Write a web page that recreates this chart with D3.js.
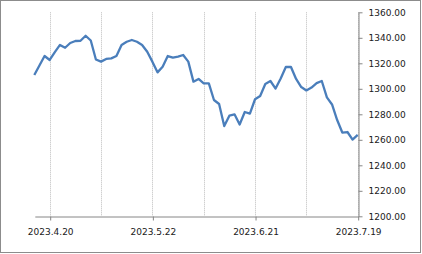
<!DOCTYPE html>
<html>
  <head>
    <meta charset="utf-8">
    <title></title>
  </head>
  <style>
  body{
    margin: 0;
    font-family: "DejaVu Sans";
  }
  .axis .domain, .axis .tick line{
    stroke: #868686;
  }
  .axis .tick text{
    fill: #1a1a1a;
    font-size: 9px;
    font-family: "DejaVu Sans";
  }
  .grid line{
    stroke: #bcbcbc;
    stroke-dasharray: 1,1;
  }
  </style>
  <script src="https://d3js.org/d3.v7.min.js"></script>
  <body>
    <script>
    // trading days
    const dates = [
      "2023.4.17","2023.4.18","2023.4.19","2023.4.20","2023.4.21",
      "2023.4.24","2023.4.25","2023.4.26","2023.4.27","2023.4.28",
      "2023.5.2","2023.5.3","2023.5.4","2023.5.8","2023.5.9",
      "2023.5.10","2023.5.11","2023.5.12","2023.5.15","2023.5.16",
      "2023.5.17","2023.5.18","2023.5.19","2023.5.22","2023.5.23",
      "2023.5.24","2023.5.25","2023.5.26","2023.5.30","2023.5.31",
      "2023.6.1","2023.6.2","2023.6.5","2023.6.7","2023.6.8",
      "2023.6.9","2023.6.12","2023.6.13","2023.6.14","2023.6.15",
      "2023.6.16","2023.6.19","2023.6.20","2023.6.21","2023.6.22",
      "2023.6.23","2023.6.26","2023.6.27","2023.6.28","2023.6.29",
      "2023.6.30","2023.7.3","2023.7.4","2023.7.5","2023.7.6",
      "2023.7.7","2023.7.10","2023.7.11","2023.7.12","2023.7.13",
      "2023.7.14","2023.7.17","2023.7.18","2023.7.19"
    ]

    const values = [
      1310.8, 1318.3, 1325.7, 1322.6, 1328.8, 1334.4, 1332.2, 1335.9, 1337.5, 1337.7,
      1341.6, 1337.9, 1323.0, 1321.3, 1323.4, 1323.9, 1325.7, 1334.4, 1336.9, 1338.3,
      1336.9, 1334.4, 1329.1, 1321.3, 1312.9, 1317.3, 1325.7, 1324.4, 1325.2, 1326.5,
      1321.3, 1305.6, 1307.7, 1304.3, 1304.3, 1291.2, 1288.1, 1270.8, 1278.9, 1280.0,
      1272.0, 1281.8, 1280.5, 1291.8, 1294.4, 1303.8, 1306.1, 1300.2, 1308.1, 1317.1,
      1317.1, 1307.7, 1301.4, 1298.7, 1301.0, 1304.5, 1306.1, 1293.3, 1287.7, 1275.5,
      1265.7, 1266.1, 1260.2, 1263.8
    ]

    const yTicks = [1200, 1220, 1240, 1260, 1280, 1300, 1320, 1340, 1360]
    const labelDates = ["2023.4.20", "2023.5.22", "2023.6.21", "2023.7.19"]
    const gridDates = dates.filter(function(d, i){ return i % 10 == 3 })

    var width = 422, height = 254

    var svg = d3.select("body")
                .append("svg")
                .attr("width", width)
                .attr("height", height)

    // outer frame
    svg.append("rect")
       .attr("x", 0.5).attr("y", 0.5)
       .attr("width", 420).attr("height", 252)
       .attr("fill", "#fff")
       .attr("stroke", "#8c8c8c")

    let xScale = d3.scalePoint()
                   .domain(dates)
                   .range([34.3, 357.7])

    let yScale = d3.scaleLinear()
                   .domain([1200, 1360])
                   .range([216.3, 12.3])

    // vertical gridlines
    svg.append("g")
       .attr("class", "grid")
       .selectAll("line")
       .data(gridDates)
       .enter()
       .append("line")
       .attr("x1", function(d){ return Math.round(xScale(d)) + 0.5 })
       .attr("x2", function(d){ return Math.round(xScale(d)) + 0.5 })
       .attr("y1", yScale(1360))
       .attr("y2", yScale(1200))

    // x axis
    let xAxis = d3.axisBottom(xScale)
                  .tickValues(labelDates)
                  .tickSize(4)
                  .tickSizeOuter(0)
                  .tickPadding(8)

    svg.append("g")
       .attr("class", "axis axis-x")
       .attr("transform", "translate(0.5," + (Math.round(yScale(1200)) + 0.5) + ")")
       .call(xAxis)

    // y axis on the right
    let yAxis = d3.axisRight(yScale)
                  .tickValues(yTicks)
                  .tickFormat(d3.format(".2f"))
                  .tickSize(4)
                  .tickSizeOuter(0)
                  .tickPadding(6)

    svg.append("g")
       .attr("class", "axis axis-y")
       .attr("transform", "translate(" + (Math.round(xScale(dates[dates.length - 1])) + 0.5) + ",0)")
       .call(yAxis)

    var line = d3.line()
                 .x(function(d, i){ return xScale(dates[i]) })
                 .y(function(d){ return yScale(d) })

    svg.append("path")
       .datum(values)
       .attr("d", line)
       .attr("fill", "none")
       .attr("stroke", "#4a7ebb")
       .attr("stroke-width", 2.3)
       .attr("stroke-linejoin", "round")
    </script>
  </body>
</html>
